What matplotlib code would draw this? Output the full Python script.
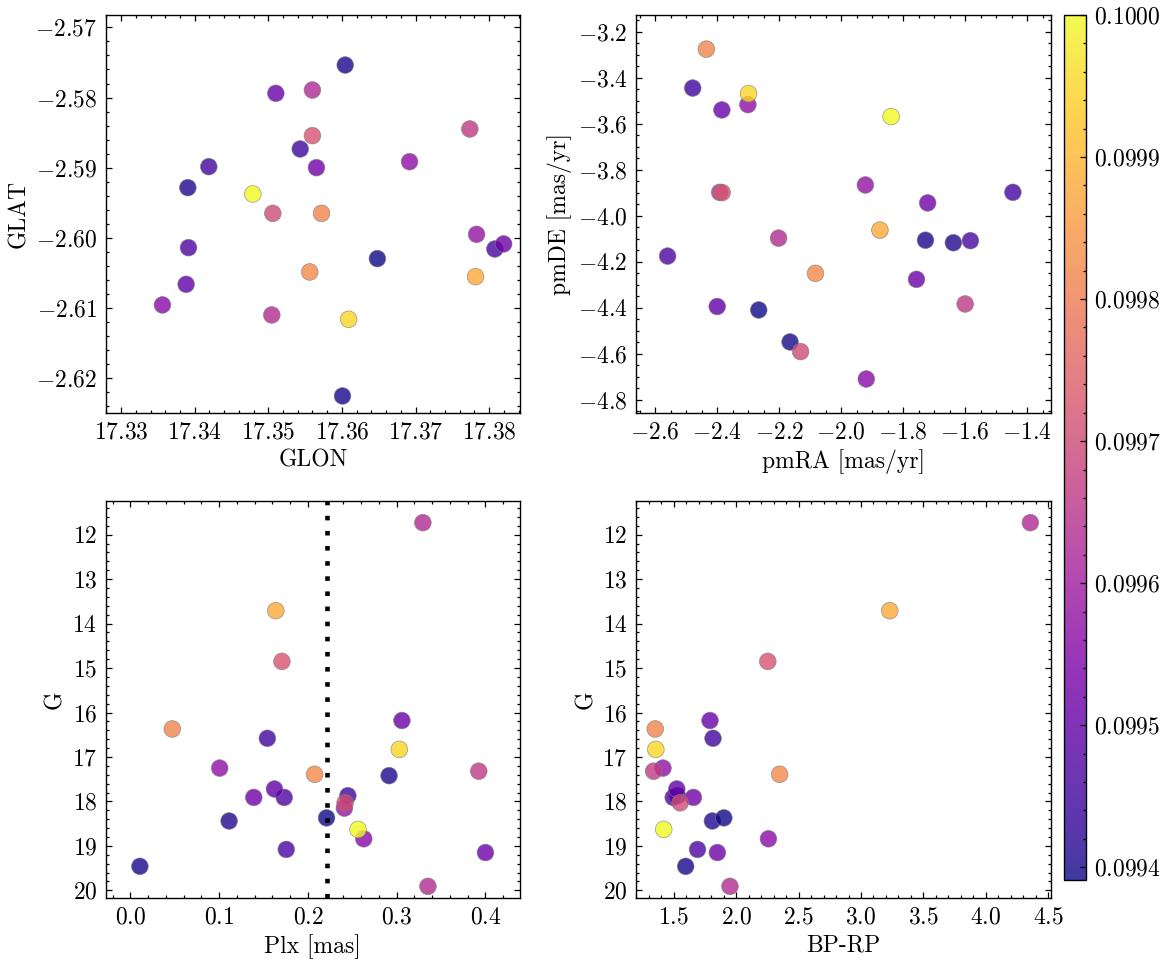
import numpy as np
import matplotlib
matplotlib.use('Agg')
from matplotlib import pyplot as plt
from matplotlib.ticker import MultipleLocator, AutoMinorLocator, ScalarFormatter

plt.rcParams['font.family'] = 'serif'
plt.rcParams['font.serif'] = ['cmr10']
plt.rcParams['mathtext.fontset'] = 'cm'
plt.rcParams['axes.formatter.use_mathtext'] = True
plt.rcParams['font.size'] = 17
plt.rcParams['axes.linewidth'] = 1.0

# one entry per star
glon = [17.36045, 17.33906, 17.36482, 17.36008, 17.35433, 17.34191, 17.38078,
        17.33915, 17.35102, 17.35654, 17.38198, 17.33883, 17.36919, 17.37830,
        17.33561, 17.35599, 17.35047, 17.37738, 17.35599, 17.35061, 17.35723,
        17.35562, 17.37816, 17.34789, 17.36091]
glat = [-2.57537, -2.59284, -2.60295, -2.62252, -2.58733, -2.58985, -2.60158,
        -2.60139, -2.57940, -2.58999, -2.60086, -2.60661, -2.58914, -2.59949,
        -2.60955, -2.57893, -2.61098, -2.58448, -2.58543, -2.59650, -2.59650,
        -2.60485, -2.60552, -2.59374, -2.61160]
pmra = [-1.728, -1.638, -2.266, -2.165, -2.479, -1.446, -1.583, -2.560, -2.385,
        -1.721, -1.757, -2.400, -2.301, -1.922, -1.919, -2.392, -2.202, -1.600,
        -2.384, -2.131, -2.435, -2.083, -1.875, -1.839, -2.299]
pmde = [-4.106, -4.117, -4.409, -4.548, -3.445, -3.898, -4.108, -4.175, -3.540,
        -3.944, -4.276, -4.394, -3.517, -3.866, -4.709, -3.898, -4.097, -4.383,
        -3.899, -4.590, -3.276, -4.250, -4.062, -3.569, -3.469]
plx = [0.2914, 0.1112, 0.2210, 0.0107, 0.1543, 0.2450, 0.1756, 0.1733, 0.3059,
       0.1390, 0.4000, 0.1623, 0.1006, 0.2411, 0.2629, 0.3295, 0.3352, 0.3924,
       0.1707, 0.2419, 0.0472, 0.2076, 0.1638, 0.2564, 0.3029]
gmag = [17.42, 18.44, 18.37, 19.46, 16.58, 17.87, 19.08, 17.91, 16.18, 17.91,
        19.15, 17.72, 17.25, 18.15, 18.84, 11.73, 19.91, 17.32, 14.85, 18.03,
        16.37, 17.39, 13.71, 18.63, 16.83]
bp_rp = [np.nan, 1.809, 1.901, 1.595, 1.814, 1.530, 1.690, 1.495, 1.790, 1.657,
         1.849, 1.524, 1.413, np.nan, 2.258, 4.357, 1.950, 1.338, 2.253, 1.551,
         1.351, 2.348, 3.230, 1.419, 1.356]
prob = [0.099405, 0.099410, 0.099391, 0.099400, 0.099450, 0.099455, 0.099460,
        0.099470, 0.099510, 0.099520, 0.099515, 0.099500, 0.099570, 0.099580,
        0.099560, 0.099630, 0.099635, 0.099665, 0.099720, 0.099705, 0.099815,
        0.099825, 0.099880, 0.100000, 0.099950]
plx_cut = 0.2217

W, H = 1166, 965
fig = plt.figure(figsize=(W / 100, H / 100), dpi=100)


def box(x0, y0, x1, y1):
    return [x0 / W, (H - y1) / H, (x1 - x0) / W, (y1 - y0) / H]


ax1 = fig.add_axes(box(105.7, 15, 520, 413.3))
ax2 = fig.add_axes(box(636, 15, 1050.7, 413.3))
ax3 = fig.add_axes(box(105.7, 500.7, 520, 898))
ax4 = fig.add_axes(box(636, 500.7, 1050.7, 898))
cax = fig.add_axes(box(1064, 15, 1086, 880))

kw = dict(c=prob, cmap='plasma', s=145, alpha=0.8, edgecolors='gray', linewidths=0.5)

ax1.scatter(glon, glat, **kw)
ax1.set_xlabel('GLON')
ax1.set_ylabel('GLAT')
ax1.set_xlim(17.3279, 17.3842)
ax1.set_ylim(-2.62499, -2.56824)
ax1.xaxis.set_major_locator(MultipleLocator(0.01))
ax1.yaxis.set_major_locator(MultipleLocator(0.01))

ax2.scatter(pmra, pmde, **kw)
ax2.set_xlabel('pmRA [mas/yr]')
ax2.set_ylabel('pmDE [mas/yr]')
ax2.set_xlim(-2.662, -1.324)
ax2.set_ylim(-4.858, -3.1276)
ax2.xaxis.set_major_locator(MultipleLocator(0.2))
ax2.yaxis.set_major_locator(MultipleLocator(0.2))

ax3.scatter(plx, gmag, **kw)
ax3.axvline(plx_cut, color='k', lw=3.3, linestyle=(0, (1, 2.3)))
ax3.set_xlabel('Plx [mas]')
ax3.set_ylabel('G')
ax3.set_xlim(-0.0278, 0.4389)
ax3.set_ylim(20.172, 11.236)
ax3.xaxis.set_major_locator(MultipleLocator(0.1))
ax3.yaxis.set_major_locator(MultipleLocator(1))

sc = ax4.scatter(bp_rp, gmag, **kw)
ax4.set_xlabel('BP-RP')
ax4.set_ylabel('G')
ax4.set_xlim(1.197, 4.52)
ax4.set_ylim(20.172, 11.236)
ax4.xaxis.set_major_locator(MultipleLocator(0.5))
ax4.yaxis.set_major_locator(MultipleLocator(1))

for ax in (ax1, ax2, ax3, ax4):
    ax.xaxis.set_minor_locator(AutoMinorLocator())
    ax.yaxis.set_minor_locator(AutoMinorLocator())
    ax.tick_params(which='both', direction='in', top=True, right=True, width=0.9)
    ax.tick_params(which='major', length=4.5, pad=6)
    ax.tick_params(which='minor', length=2.3)

cb = fig.colorbar(sc, cax=cax)
cb.outline.set_linewidth(1.0)
cb.ax.yaxis.set_major_locator(MultipleLocator(0.0001))
fmt = ScalarFormatter(useOffset=False, useMathText=True)
cb.ax.yaxis.set_major_formatter(fmt)
cb.ax.yaxis.set_minor_locator(AutoMinorLocator(5))
cb.ax.tick_params(which='both', direction='in', width=0.9)
cb.ax.tick_params(which='major', length=4.5, pad=6)
cb.ax.tick_params(which='minor', length=2.3)

fig.savefig('out.png', dpi=100)
